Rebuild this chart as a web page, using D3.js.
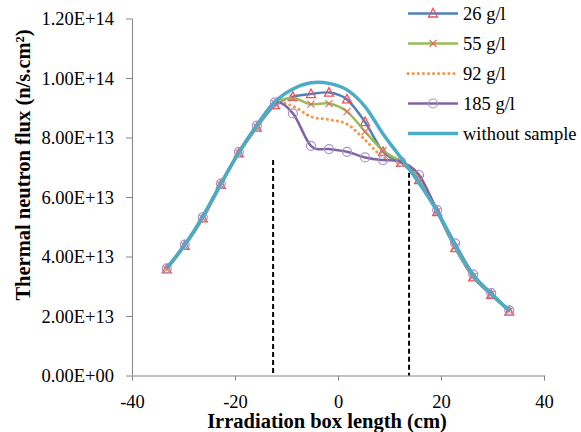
<!DOCTYPE html>
<html><head><meta charset="utf-8">
<script src="https://cdn.jsdelivr.net/npm/d3@7"></script>
<style>
html,body{margin:0;padding:0;background:#fff;}
svg{display:block;}
</style></head>
<body><svg id="c" width="581" height="432"></svg>
<script>
const positions = [-33.25,-29.75,-26.25,-22.75,-19.25,-15.75,-12.25,-8.75,-5.25,-1.75,1.75,5.25,8.75,12.25,15.75,19.25,22.75,26.25,29.75,33.25];
const flux26  = [3.57,4.36,5.28,6.41,7.47,8.33,9.09,9.37,9.46,9.51,9.28,8.52,7.52,7.15,6.57,5.49,4.28,3.30,2.71,2.15];
const flux55  = [3.57,4.36,5.28,6.41,7.47,8.35,9.15,9.32,9.12,9.14,8.87,8.20,7.56,7.18,6.60,5.52,4.32,3.33,2.73,2.17];
const flux92  = [3.57,4.37,5.29,6.42,7.48,8.36,9.15,9.05,8.70,8.60,8.45,7.92,7.34,7.14,6.62,5.53,4.33,3.34,2.74,2.17];
const flux185 = [3.60,4.40,5.32,6.45,7.52,8.40,9.18,8.81,7.72,7.61,7.52,7.33,7.24,7.18,6.74,5.56,4.44,3.40,2.77,2.19];
const fluxNone= [3.62,4.40,5.35,6.45,7.50,8.42,9.20,9.63,9.84,9.82,9.60,9.04,8.12,7.31,6.47,5.52,4.38,3.38,2.75,2.19];
const seriesNames = ["26 g/l","55 g/l","92 g/l","185 g/l","without sample"];
const yTicks = [0,2e13,4e13,6e13,8e13,1e14,1.2e14];
const yTickLabels = ["0.00E+00","2.00E+13","4.00E+13","6.00E+13","8.00E+13","1.00E+14","1.20E+14"];
const xTicks = [-40,-20,0,20,40];
const xTickLabels = ["-40","-20","0","20","40"];
const boxEdges = [-12.6, 13.8];
const boxEdgeTops = [7.24e13, 7.08e13];
const xTitle = "Irradiation box length (cm)";
const yTitle = "Thermal neutron flux (n/s.cm²)";

const FONT = '"Liberation Serif", "Times New Roman", serif';
const seriesData = [flux26, flux55, flux92, flux185, fluxNone];
const styles = [
  {color:"#4F81BD", width:2.5, dash:null, marker:"tri", mcolor:"#F0505A"},
  {color:"#9BBB59", width:2.5, dash:null, marker:"x", mcolor:"#DE6B63"},
  {color:"#F79646", width:2.5, dash:"0.1,5", marker:null},
  {color:"#8064A2", width:2.5, dash:null, marker:"circ", mcolor:"#A792CF"},
  {color:"#4BACC6", width:3.5, dash:null, marker:null}
];

const svg = d3.select("#c");
const x = d3.scaleLinear().domain([-40,40]).range([132,544]);
const y = d3.scaleLinear().domain([0,1.2e14]).range([375.5,18.5]);

// axes
const yAxis = svg.append("g").attr("transform","translate(132,0)")
  .call(d3.axisLeft(y).tickValues(yTicks).tickSize(6).tickFormat((d,i)=>yTickLabels[i]));
const xAxis = svg.append("g").attr("transform","translate(0,375.5)")
  .call(d3.axisBottom(x).tickValues(xTicks).tickSize(5).tickFormat((d,i)=>xTickLabels[i]));
[yAxis,xAxis].forEach(g=>{
  g.attr("font-family",null).attr("font-size",null);
  g.selectAll("path,line").attr("stroke","#868686").attr("stroke-width",1);
  g.selectAll("text").style("font-family",FONT).style("font-size","18.5px").attr("fill","#000");
});
yAxis.select(".domain").attr("d","M0.5,18.5V375.5");
yAxis.selectAll("text").attr("x",-18).attr("dy","0.33em");
xAxis.selectAll("text").attr("y",32.5).attr("dy",0);

// dashed box edges
svg.append("g").selectAll("line").data(boxEdges).join("line")
  .attr("x1",d=>x(d)).attr("x2",d=>x(d))
  .attr("y1",(d,i)=>y(boxEdgeTops[i])).attr("y2",y(0))
  .attr("stroke","#000").attr("stroke-width",2).attr("stroke-dasharray","5,3");

const line = d3.line().curve(d3.curveCatmullRom.alpha(0)).x(d=>x(d[0])).y(d=>y(d[1]*1e13));

function drawMarkers(g, pts, st){
  if (!st.marker) return;
  pts.forEach(([px,py])=>{
    if (st.marker==="tri"){
      g.append("path").attr("d",`M${px},${py-5}L${px+4.5},${py+3.5}L${px-4.5},${py+3.5}Z`)
        .attr("fill","none").attr("stroke",st.mcolor).attr("stroke-width",1.3);
    } else if (st.marker==="x"){
      g.append("path").attr("d",`M${px-3.5},${py-3.5}L${px+3.5},${py+3.5}M${px-3.5},${py+3.5}L${px+3.5},${py-3.5}`)
        .attr("fill","none").attr("stroke",st.mcolor).attr("stroke-width",1.1);
    } else if (st.marker==="circ"){
      g.append("circle").attr("cx",px).attr("cy",py).attr("r",4.5)
        .attr("fill","none").attr("stroke",st.mcolor).attr("stroke-width",1.2);
    }
  });
}

seriesData.forEach((vals,i)=>{
  const st = styles[i];
  const pts = positions.map((p,j)=>[p,vals[j]]);
  const g = svg.append("g");
  const p = g.append("path").datum(pts).attr("d",line).attr("fill","none")
    .attr("stroke",st.color).attr("stroke-width",st.width).attr("stroke-linejoin","round");
  if (st.dash) p.attr("stroke-dasharray",st.dash).attr("stroke-linecap","round").attr("stroke-width",3);
  drawMarkers(g, pts.map(d=>[x(d[0]), y(d[1]*1e13)]), st);
});

// legend
const lg = svg.append("g");
seriesNames.forEach((name,i)=>{
  const st = styles[i];
  const ly = 13.5 + i*30;
  const l = lg.append("line").attr("x1",408).attr("x2",458).attr("y1",ly).attr("y2",ly)
    .attr("stroke",st.color).attr("stroke-width",st.width);
  if (st.dash) l.attr("stroke-dasharray",st.dash).attr("stroke-linecap","round").attr("stroke-width",3);
  drawMarkers(lg, [[433,ly]], st);
  lg.append("text").attr("x",463).attr("y",ly).attr("dy","0.33em")
    .style("font-family",FONT).style("font-size","18.5px").text(name);
});

// titles
svg.append("text").attr("x",327).attr("y",428).attr("text-anchor","middle")
  .style("font-family",FONT).style("font-weight","bold").style("font-size","20.5px").text(xTitle);
svg.append("text").attr("transform","translate(30,165) rotate(-90)").attr("text-anchor","middle")
  .style("font-family",FONT).style("font-weight","bold").style("font-size","20.5px").text(yTitle);
</script>
</body></html>
